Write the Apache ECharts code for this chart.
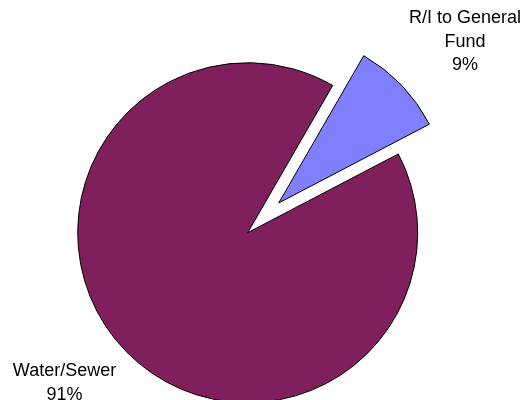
<!DOCTYPE html>
<html>
<head>
<meta charset="utf-8">
<script src="https://cdn.jsdelivr.net/npm/echarts@6/dist/echarts.min.js"></script>
<style>html,body{margin:0;padding:0;background:#fff;}#c{width:523px;height:400px;}</style>
</head>
<body>
<div id="c"></div>
<script>
var categories = ['R/I to General\nFund', 'Water/Sewer'];
var values = [9, 91];
var colors = ['#8080FF', '#7F1F5B'];
var explodedIndex = 0;

var chart = echarts.init(document.getElementById('c'), null, {renderer: 'canvas'});
var labelPos = [
  {x: 465, y: 42},
  {x: 64.5, y: 383}
];
var pieCenter = [247.7, 232.7];
var startAngle = 60;
var explodeDist = 43;

// mid angle of exploded slice (degrees clockwise from top)
var total = values.reduce(function (a, b) { return a + b; }, 0);
var before = 0;
for (var k = 0; k < explodedIndex; k++) before += values[k];
var midFromTop = (90 - startAngle) + (before + values[explodedIndex] / 2) / total * 360;
var rad = midFromTop * Math.PI / 180;
var explodedCenter = [pieCenter[0] + Math.sin(rad) * explodeDist, pieCenter[1] - Math.cos(rad) * explodeDist];

var baseLabel = {
  fontFamily: 'Liberation Sans, Arial, sans-serif',
  fontSize: 18,
  lineHeight: 23.5,
  color: '#000',
  align: 'center',
  position: 'outside',
  formatter: function (p) { return p.name + '\n' + p.value + '%'; }
};

function makeSeries(center, visibleFn) {
  return {
    type: 'pie',
    center: center,
    radius: 170,
    startAngle: startAngle,
    clockwise: true,
    avoidLabelOverlap: false,
    silent: true,
    labelLine: {show: false},
    labelLayout: function (p) {
      var pos = labelPos[p.dataIndex];
      return {x: pos.x, y: pos.y, align: 'center', verticalAlign: 'middle'};
    },
    emphasis: {disabled: true},
    data: categories.map(function (c, i) {
      var vis = visibleFn(i);
      return {
        name: c,
        value: values[i],
        itemStyle: vis ? {color: colors[i], borderColor: '#000', borderWidth: 1}
                       : {color: 'rgba(0,0,0,0)', borderWidth: 0},
        label: vis ? Object.assign({show: true}, baseLabel) : {show: false}
      };
    })
  };
}

chart.setOption({
  animation: false,
  series: [
    makeSeries(pieCenter, function (i) { return i !== explodedIndex; }),
    makeSeries(explodedCenter, function (i) { return i === explodedIndex; })
  ]
});
</script>
</body>
</html>
